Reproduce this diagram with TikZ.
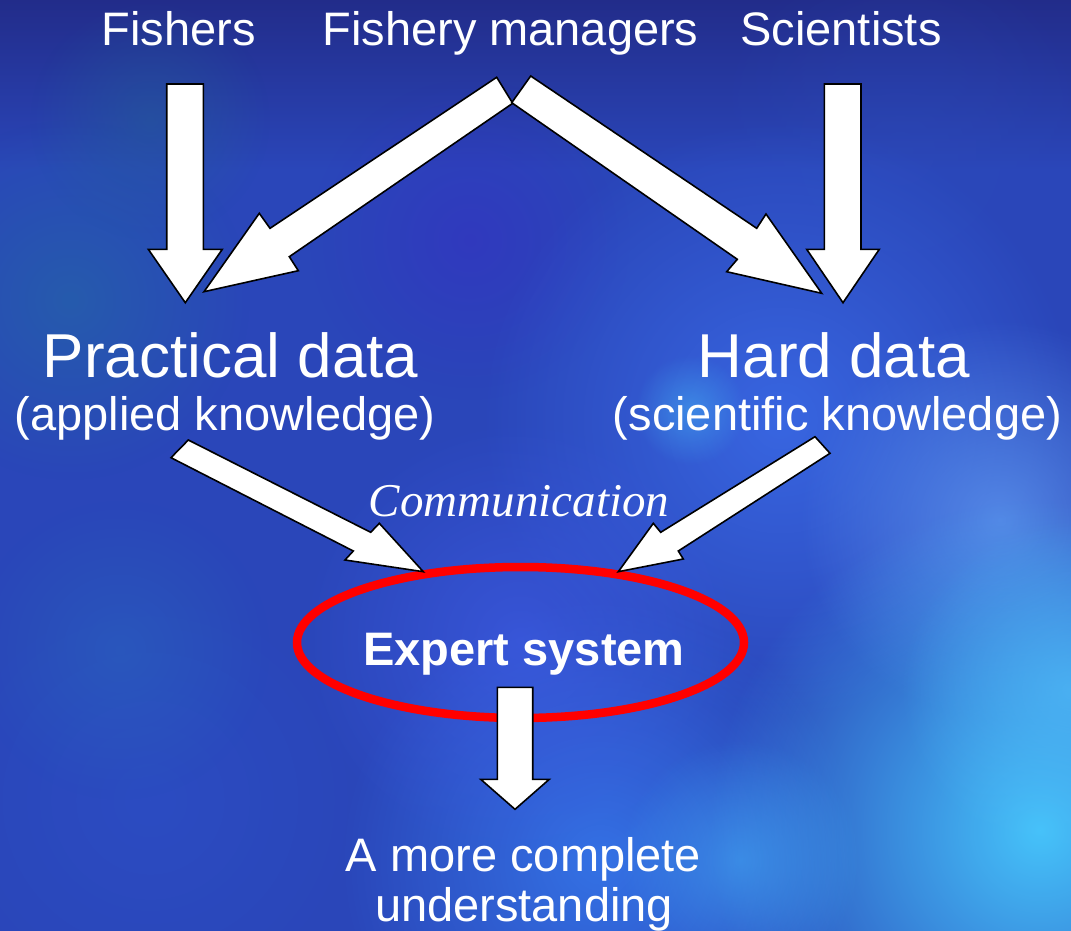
\documentclass[tikz,border=0pt]{standalone}
\usepackage{fontspec}
\setmainfont{Liberation Sans}
\newfontfamily\serifit{Liberation Serif}
\usetikzlibrary{shapes.geometric,fadings}
\tikzfading[name=blob, inner color=transparent!0, outer color=transparent!100]
\definecolor{bgbase}{RGB}{42,70,185}
\definecolor{bgtop}{RGB}{34,44,138}
\begin{document}
\begin{tikzpicture}[x=1pt,y=-1pt,
  barrow/.style={fill=white, draw=black, line width=1.6pt, line join=miter},
  lbl/.style={text=white, inner sep=0pt, anchor=base, font=\fontsize{47}{51}\selectfont},
  biglbl/.style={lbl, font=\fontsize{62}{66}\selectfont},
  blobfill/.style={path fading=blob}]
\useasboundingbox (0,0) rectangle (1071,931);
% ---------- background ----------
\begin{scope}
\clip (0,0) rectangle (1071,931);
\fill[bgbase] (0,0) rectangle (1071,931);
\shade[top color=bgtop, bottom color=bgbase] (0,0) rectangle (1071,170);
\fill[blobfill, color={rgb,255:red,35;green,105;blue,165}, fill opacity=.6] (70,300) circle (180);
\fill[blobfill, color={rgb,255:red,35;green,95;blue,150}, fill opacity=.5] (150,120) circle (120);
\fill[blobfill, color={rgb,255:red,45;green,75;blue,185}, fill opacity=.4] (900,150) circle (200);
\fill[blobfill, color={rgb,255:red,55;green,45;blue,195}, fill opacity=.5] (470,240) circle (160);
\fill[blobfill, color={rgb,255:red,60;green,110;blue,235}, fill opacity=.8] (780,420) circle (300);
\fill[blobfill, color={rgb,255:red,70;green,180;blue,245}, fill opacity=.5] (690,410) circle (55);
\fill[blobfill, color={rgb,255:red,100;green,160;blue,245}, fill opacity=.7] (1000,520) circle (200);
\fill[blobfill, color={rgb,255:red,45;green,80;blue,200}, fill opacity=.6] (150,800) circle (220);
\fill[blobfill, color={rgb,255:red,40;green,110;blue,190}, fill opacity=.4] (120,650) circle (150);
\fill[blobfill, color={rgb,255:red,55;green,125;blue,240}, fill opacity=.8] (600,860) circle (260);
\fill[blobfill, color={rgb,255:red,65;green,95;blue,235}, fill opacity=.6] (520,640) circle (220);
\fill[blobfill, color={rgb,255:red,70;green,195;blue,250}, fill opacity=1] (1040,830) circle (330);
\fill[blobfill, color={rgb,255:red,70;green,180;blue,250}, fill opacity=.5] (740,860) circle (120);
\fill[blobfill, color={rgb,255:red,80;green,190;blue,250}, fill opacity=.7] (1071,690) circle (170);
\end{scope}
% ---------- texts ----------
\node[lbl] (fishers) at (178.5,46) {Fishers};
\node[lbl] (managers) at (510.5,46) {Fishery managers};
\node[lbl] (scientists) at (841,46) {Scientists};
\node[biglbl] (practical) at (230.5,377) {Practical data};
\node[lbl] (applied) at (225,430) {(applied knowledge)};
\node[biglbl] (hard) at (834,377) {Hard data};
\node[lbl] (scientific) at (837.5,430) {(scientific knowledge)};
\node[lbl, font=\serifit\itshape\fontsize{47}{51}\selectfont] (comm) at (519,516) {Communication};
% ---------- expert system ----------
\node[ellipse, draw=red, line width=8.5pt, minimum width=447pt, minimum height=151pt, inner sep=0pt] (expert) at (520.5,642.5) {};
\node[lbl, font=\bfseries\fontsize{47}{51}\selectfont] (experttext) at (524,665) {Expert system};
\node[lbl] (more) at (523.5,871) {A more complete};
\node[lbl] (underst) at (524,921) {understanding};
% ---------- block arrows ----------
\draw[barrow] (166.7,84) -- (203.3,84) -- (203.3,249.3) -- (222.3,249.3) -- (185.3,302.7) -- (148.3,249.3) -- (166.7,249.3) -- cycle;
\draw[barrow] (824.3,84) -- (861,84) -- (861,249.3) -- (879.3,249.3) -- (843,302.7) -- (806.7,249.3) -- (824.3,249.3) -- cycle;
\draw[barrow] (496.7,77.3) -- (512.7,103.3) -- (289.3,256.7) -- (298.3,270.7) -- (204,291.7) -- (259.3,213.3) -- (270,228.3) -- cycle;
\draw[barrow] (530.7,76) -- (511.7,102.7) -- (737.3,259.3) -- (726.7,271.7) -- (821.7,293.3) -- (766,214) -- (756.7,228.3) -- cycle;
\draw[barrow] (188.3,440) -- (370.7,532.3) -- (379.3,523.3) -- (423.3,571.7) -- (345,560) -- (353.3,551) -- (171,457.7) -- cycle;
\draw[barrow] (815,436.7) -- (830,453.3) -- (678.3,551) -- (683.3,559) -- (618.3,571.7) -- (653.3,523.3) -- (660.7,532.3) -- cycle;
\draw[barrow] (497.3,687.3) -- (532.7,687.3) -- (532.7,779.3) -- (549.3,779.3) -- (515,809.3) -- (480.7,779.3) -- (497.3,779.3) -- cycle;
\end{tikzpicture}
\end{document}
